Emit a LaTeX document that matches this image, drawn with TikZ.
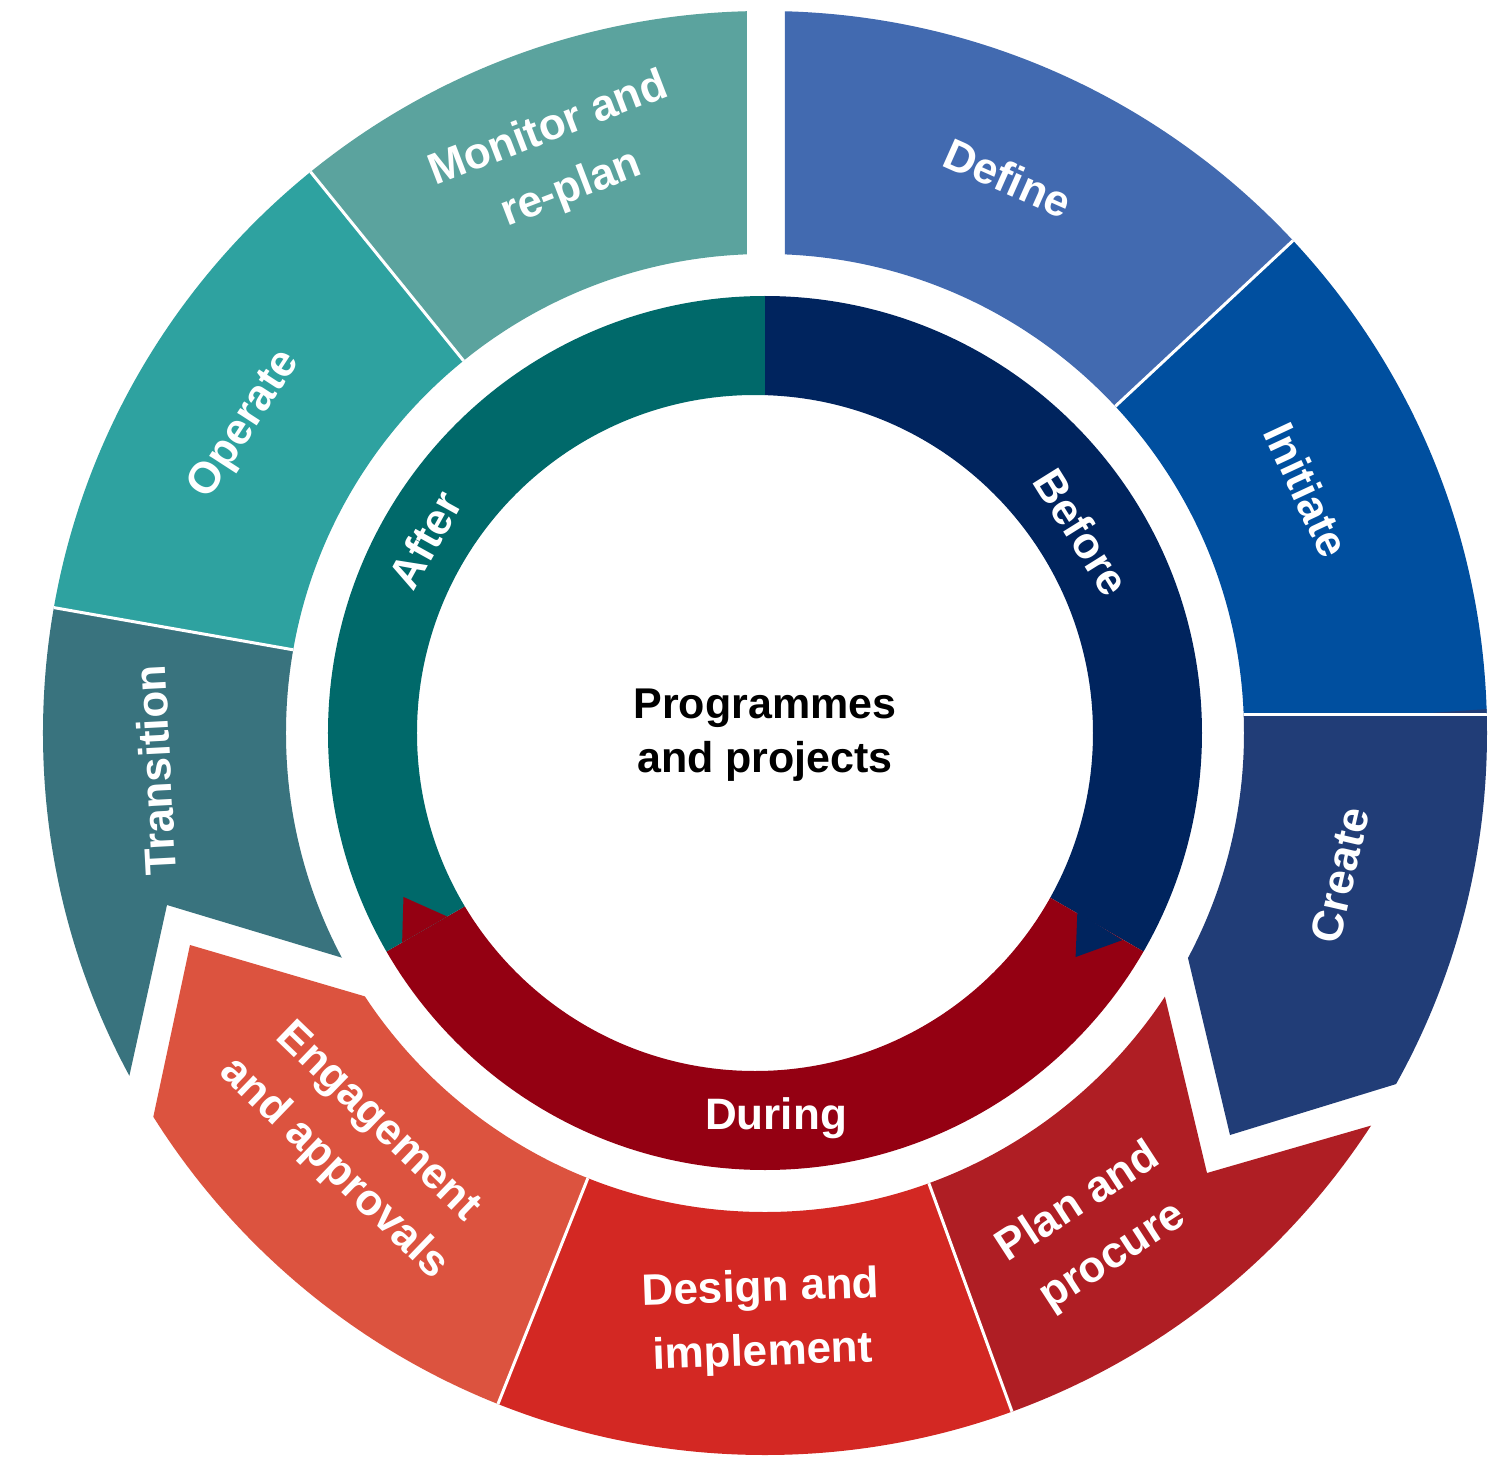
\documentclass[tikz,border=0pt]{standalone}
\usepackage{fontspec}
\setmainfont{Liberation Sans}
\begin{document}
\begin{tikzpicture}[x=1pt,y=1pt,
  seglabel/.style={text=white,font=\bfseries\fontsize{44}{64}\selectfont,align=center,inner sep=0pt,outer sep=0pt},
  hublabel/.style={text=black,font=\bfseries\fontsize{43}{54}\selectfont,align=center,inner sep=0pt,outer sep=0pt},
  sepline/.style={draw=white,line width=3pt}]
\path[use as bounding box,fill=white] (-765,-724) rectangle (740,733);
\begin{scope}[even odd rule]
\path[clip] (0,0) circle[radius=722] (0,0) circle[radius=479];
\definecolor{fillColor}{RGB}{66,106,176}

\path[fill=fillColor] ( 20,  0) -- ( 20,1000) -- (43:1400) -- (0,0) -- cycle;
\definecolor{fillColor}{RGB}{0,79,159}

\path[fill=fillColor] (0,0) -- (43:1400) -- (1200,19) -- (0,19) -- cycle;
\definecolor{fillColor}{RGB}{33,61,119}

\path[fill=fillColor] (0,19) -- (650,19) -- (1000,43) -- (1000,-317) -- (742,-317) --
	(465,-402) -- (381,-48) -- (0,0) -- cycle;
\definecolor{fillColor}{RGB}{175,30,36}

\path[fill=fillColor] (0,0) -- (358,-88) -- (442,-440) -- (961,-290) -- (-70:1400) -- cycle;
\definecolor{fillColor}{RGB}{211,40,35}

\path[fill=fillColor] (0,0) -- (-70:1400) -- (-111.7:1400) -- cycle;
\definecolor{fillColor}{RGB}{220,83,63}

\path[fill=fillColor] (0,0) -- (-111.7:1400) -- (-689,-746) -- (-575,-212) -- (-221,-316) -- cycle;
\definecolor{fillColor}{RGB}{57,115,126}

\path[fill=fillColor] (0,0) -- (-246,-278) -- (-598,-172) -- (-715,-703) -- (170:1400) -- cycle;
\definecolor{fillColor}{RGB}{46,162,160}

\path[fill=fillColor] (0,0) -- (129:1400) -- (170:1400) -- cycle;
\definecolor{fillColor}{RGB}{91,163,158}

\path[fill=fillColor] (0,0) -- (129:1400) -- (-18,1200) -- (-18,0) -- cycle;

\path[sepline] (0,0) -- (43:800);
\path[sepline] (0,19) -- (800,19);
\path[sepline] (0,0) -- (-70:800);
\path[sepline] (0,0) -- (-111.7:800);
\path[sepline] (0,0) -- (170:800);
\path[sepline] (0,0) -- (129:800);
\end{scope}
\begin{scope}[even odd rule]
\path[clip] (0,0) circle[radius=437] (-10,0) circle[radius=338];
\definecolor{fillColor}{RGB}{0,36,94}

\path[fill=fillColor] (0,0) -- (90:600) -- (30:900) -- (-30:600) -- cycle;
\definecolor{fillColor}{RGB}{148,0,18}

\path[fill=fillColor] (0,0) -- (-30:600) -- (-90:700) -- (210:600) -- cycle;
\definecolor{fillColor}{RGB}{0,105,106}

\path[fill=fillColor] (0,0) -- (210:600) -- (150:700) -- (90:600) -- cycle;
\definecolor{fillColor}{RGB}{0,36,94}

\path[fill=fillColor] (-29.8:360) -- (-30.1:413) -- (-35.8:383) -- cycle;
\definecolor{fillColor}{RGB}{148,0,18}

\path[fill=fillColor] (210:367) -- (210:419) -- (204.4:397) -- cycle;
\end{scope}

\node[seglabel,rotate=-24] (define) at ( 243, 555) {Define};
\node[seglabel,rotate=-65] (initiate) at ( 542, 243) {Initiate};
\node[seglabel,rotate= 77] (create) at ( 575,-142) {Create};
\node[seglabel,rotate= 33] (plan) at ( 331,-497) {Plan and\\procure};
\node[seglabel,rotate=  2] (design) at (  -3,-589) {Design and\\implement};
\node[seglabel,rotate=-44] (engage) at (-410,-413) {Engagement\\and approvals};
\node[seglabel,rotate= 93] (transition) at (-610, -37) {Transition};
\node[seglabel,rotate= 57] (operate) at (-520, 308) {Operate};
\node[seglabel,rotate= 21] (monitor) at (-205, 573) {Monitor and\\re-plan};

\node[seglabel,rotate=-58] (before) at ( 317, 201) {Before};
\node[seglabel,rotate= 61] (after) at (-340, 193) {After};
\node[seglabel] (during) at (  11,-385) {During};

\node[hublabel] (hub) at (   0,  -2) {Programmes\\and projects};
\end{tikzpicture}
\end{document}
